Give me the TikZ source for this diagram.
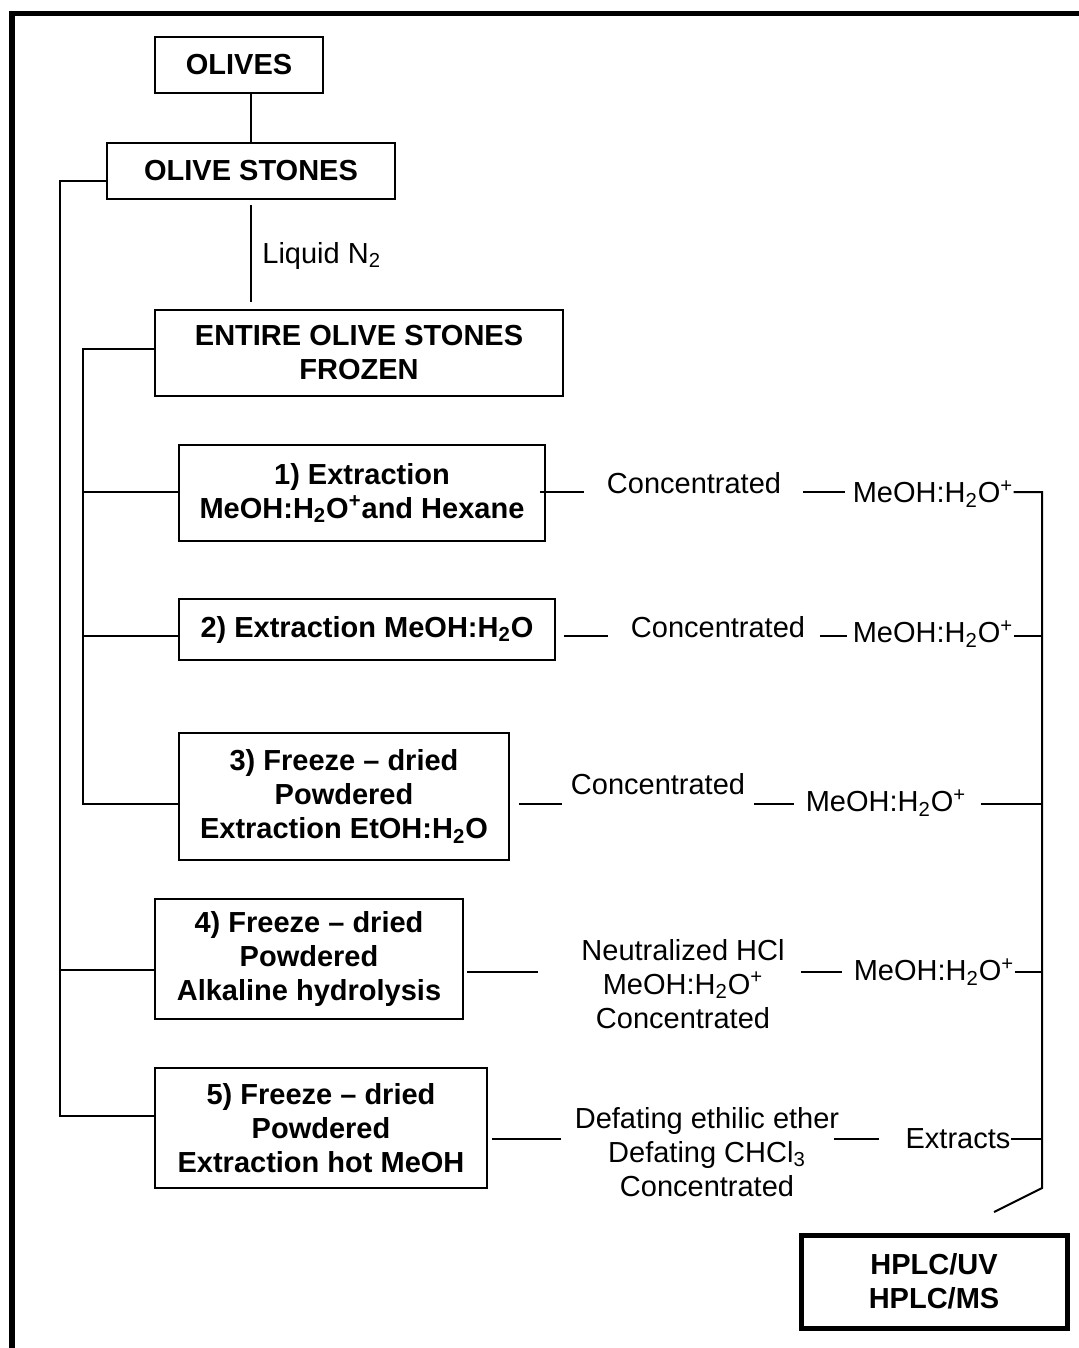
\documentclass[tikz,border=0pt]{standalone}
\usepackage{fontspec}
\setmainfont{Liberation Sans}
\begin{document}
\begin{tikzpicture}[x=0.5pt,y=-0.5pt,
  stage/.style={draw,line width=1pt,inner sep=0pt,align=center,
    font=\fontsize{14.5}{17}\selectfont\bfseries},
  result/.style={stage,line width=2.5pt},
  lbl/.style={inner sep=0pt,align=center,font=\fontsize{14.5}{17}\selectfont},
  link/.style={line width=1pt},
  frame/.style={line width=2.75pt}]
\useasboundingbox (0,0) rectangle (1078,1348);

% outer frame (top and left edges)
\draw[frame] (1090,13.5) -- (12,13.5) -- (12,1360);

% process stages
\node[stage,minimum width=84pt,minimum height=28pt] (ol) at (239,65) {OLIVES};
\node[stage,minimum width=144pt,minimum height=28pt] (os) at (251,171) {OLIVE STONES};
\node[lbl,anchor=west] (n2) at (262,256) {Liquid N\textsubscript{2}};
\node[stage,minimum width=204pt,minimum height=43pt] (ent) at (359,353) {ENTIRE OLIVE STONES\\FROZEN};
\node[stage,minimum width=183pt,minimum height=48pt] (b1) at (362,493) {1) Extraction\\MeOH:H\textsubscript{2}O\textsuperscript{+}and Hexane};
\node[stage,minimum width=188pt,minimum height=30.5pt] (b2) at (367,629.5) {2) Extraction MeOH:H\textsubscript{2}O};
\node[stage,minimum width=165pt,minimum height=63.5pt] (b3) at (344,796.5) {3) Freeze – dried\\Powdered\\Extraction EtOH:H\textsubscript{2}O};
\node[stage,minimum width=154pt,minimum height=60pt] (b4) at (309,959) {4) Freeze – dried\\Powdered\\Alkaline hydrolysis};
\node[stage,minimum width=166pt,minimum height=60pt] (b5) at (321,1128) {5) Freeze – dried\\Powdered\\Extraction hot MeOH};
\node[result,minimum width=133pt,minimum height=46.5pt] (hplc) at (934,1281.5) {HPLC/UV\\HPLC/MS};

% treatment labels
\node[lbl] (c1) at (694,483) {Concentrated};
\node[lbl] (m1) at (933,494) {MeOH:H\textsubscript{2}O\textsuperscript{+}};
\node[lbl] (c2) at (718,627) {Concentrated};
\node[lbl] (m2) at (933,634) {MeOH:H\textsubscript{2}O\textsuperscript{+}};
\node[lbl] (c3) at (658,784) {Concentrated};
\node[lbl] (m3) at (886,803) {MeOH:H\textsubscript{2}O\textsuperscript{+}};
\node[lbl] (t4) at (683,984) {Neutralized HCl\\MeOH:H\textsubscript{2}O\textsuperscript{+}\\Concentrated};
\node[lbl] (m4) at (934,972) {MeOH:H\textsubscript{2}O\textsuperscript{+}};
\node[lbl] (t5) at (707,1152) {Defating ethilic ether\\Defating CHCl\textsubscript{3}\\Concentrated};
\node[lbl] (ex) at (958,1139) {Extracts};

% connector levels
\coordinate (r1) at (0,492);
\coordinate (r2) at (0,636);
\coordinate (r3) at (0,804);
\coordinate (r4) at (0,972);
\coordinate (r5) at (0,1139);
\coordinate (ob) at (60,181);
\coordinate (l4) at (0,970);
\coordinate (l5) at (0,1116);
\coordinate (ib) at (83,349);
\coordinate (rb) at (1042,492);
\coordinate (rbBot) at (1042,1188);
\coordinate (rbTip) at (994,1212);

% main trunk
\draw[link] (ol.south -| os.north) -- (os.north);
\draw[link,shorten <=2.5pt,shorten >=3.5pt] (os.south) -- (os.south |- ent.north);

% left buses
\draw[link] (os.west |- ob) -- (ob) -- (ob |- l5) -- (b5.west |- l5);
\draw[link] (ob |- l4) -- (b4.west |- l4);
\draw[link] (ent.west |- ib) -- (ib) -- (ib |- r3) -- (b3.west |- r3);
\draw[link] (ib |- r1) -- (b1.west |- r1);
\draw[link] (ib |- r2) -- (b2.west |- r2);

% row 1
\draw[link,shorten <=-3pt,shorten >=11.5pt] (b1.east |- r1) -- (c1.west |- r1);
\draw[link,shorten <=11pt,shorten >=3.5pt] (c1.east |- r1) -- (m1.west |- r1);
\draw[link] (m1.east |- r1) -- (rb) -- (rbBot) -- (rbTip);
% row 2
\draw[link,shorten <=4pt,shorten >=11.5pt] (b2.east |- r2) -- (c2.west |- r2);
\draw[link,shorten <=7.5pt,shorten >=2.5pt] (c2.east |- r2) -- (m2.west |- r2);
\draw[link] (m2.east |- r2) -- (rb |- r2);
% row 3
\draw[link,shorten <=4.5pt,shorten >=4.5pt] (b3.east |- r3) -- (c3.west |- r3);
\draw[link,shorten <=4.5pt,shorten >=5.5pt] (c3.east |- r3) -- (m3.west |- r3);
\draw[link,shorten <=7pt] (m3.east |- r3) -- (rb |- r3);
% row 4
\draw[link,shorten <=1.5pt,shorten >=21.5pt] (b4.east |- r4) -- (t4.west |- r4);
\draw[link,shorten <=8pt,shorten >=5.5pt] (t4.east |- r4) -- (m4.west |- r4);
\draw[link] (m4.east |- r4) -- (rb |- r4);
% row 5
\draw[link,shorten <=2pt,shorten >=6.5pt] (b5.east |- r5) -- (t5.west |- r5);
\draw[link,shorten <=-3pt,shorten >=13pt] (t5.east |- r5) -- (ex.west |- r5);
\draw[link] (ex.east |- r5) -- (rb |- r5);
\end{tikzpicture}
\end{document}
